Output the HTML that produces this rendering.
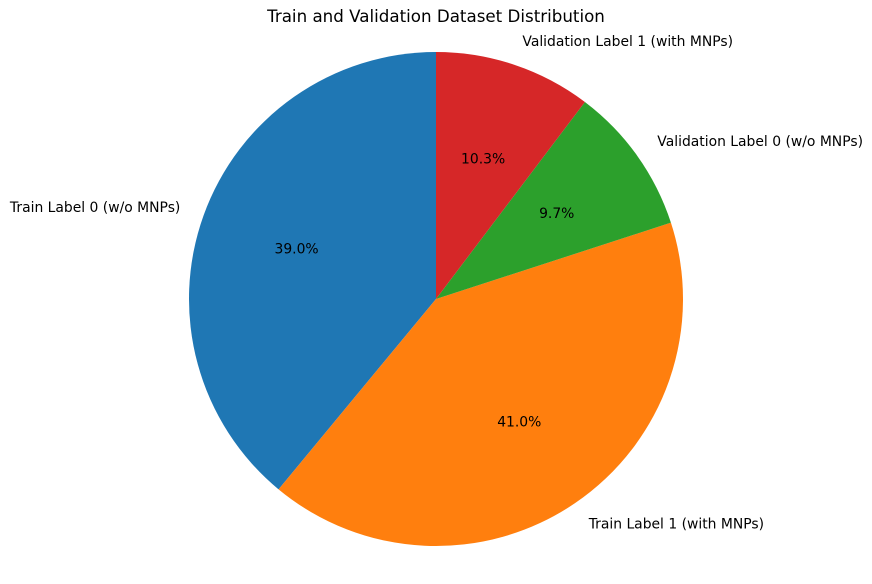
<!DOCTYPE html>
<html><head><meta charset="utf-8"><style>
body{margin:0;background:#fff;}
svg text{font-family:"DejaVu Sans","Liberation Sans",sans-serif;}
</style></head><body>
<svg id="chart" width="872" height="579" viewBox="0 0 872 579" xmlns="http://www.w3.org/2000/svg">
<text x="436" y="22" text-anchor="middle" font-size="16.7">Train and Validation Dataset Distribution</text>
<g id="slices"></g>
</svg>
<script>
const labels = ["Train Label 0 (w/o MNPs)", "Train Label 1 (with MNPs)", "Validation Label 0 (w/o MNPs)", "Validation Label 1 (with MNPs)"];
const values = [39.0, 41.0, 9.7, 10.3];
const colors = ["#1f77b4", "#ff7f0e", "#2ca02c", "#d62728"];
const names = ["slice-train-label-0", "slice-train-label-1", "slice-validation-label-0", "slice-validation-label-1"];

const cx = 436, cy = 299, r = 247;
const g = document.getElementById('slices');
const ns = "http://www.w3.org/2000/svg";
const total = values.reduce((a,b)=>a+b,0);
let start = 90;
function pt(a, rad){ const t = a*Math.PI/180; return [cx + rad*Math.cos(t), cy - rad*Math.sin(t)]; }
values.forEach((v,i)=>{
  const sweep = v/total*360;
  const end = start + sweep;
  const [x1,y1] = pt(start, r), [x2,y2] = pt(end, r);
  const large = sweep > 180 ? 1 : 0;
  const p = document.createElementNS(ns,'path');
  p.setAttribute('d', `M${cx},${cy} L${x1},${y1} A${r},${r} 0 ${large} 0 ${x2},${y2} Z`);
  p.setAttribute('fill', colors[i]);
  
  
  g.appendChild(p);
  const mid = start + sweep/2;
  const [lx,ly] = pt(mid, r*1.1);
  const t = document.createElementNS(ns,'text');
  t.setAttribute('x', lx); t.setAttribute('y', ly + 4.8);
  t.setAttribute('font-size', '13.9');
  t.setAttribute('text-anchor', Math.cos(mid*Math.PI/180) >= 0 ? 'start' : 'end');
  t.textContent = labels[i];
  
  
  g.appendChild(t);
  const [px,py] = pt(mid, r*0.6);
  const q = document.createElementNS(ns,'text');
  q.setAttribute('x', px); q.setAttribute('y', py + 4.8);
  q.setAttribute('font-size', '13.9');
  q.setAttribute('text-anchor', 'middle');
  q.textContent = (v/total*100).toFixed(1) + '%';
  
  
  g.appendChild(q);
  start = end;
});
</script>
</body></html>
